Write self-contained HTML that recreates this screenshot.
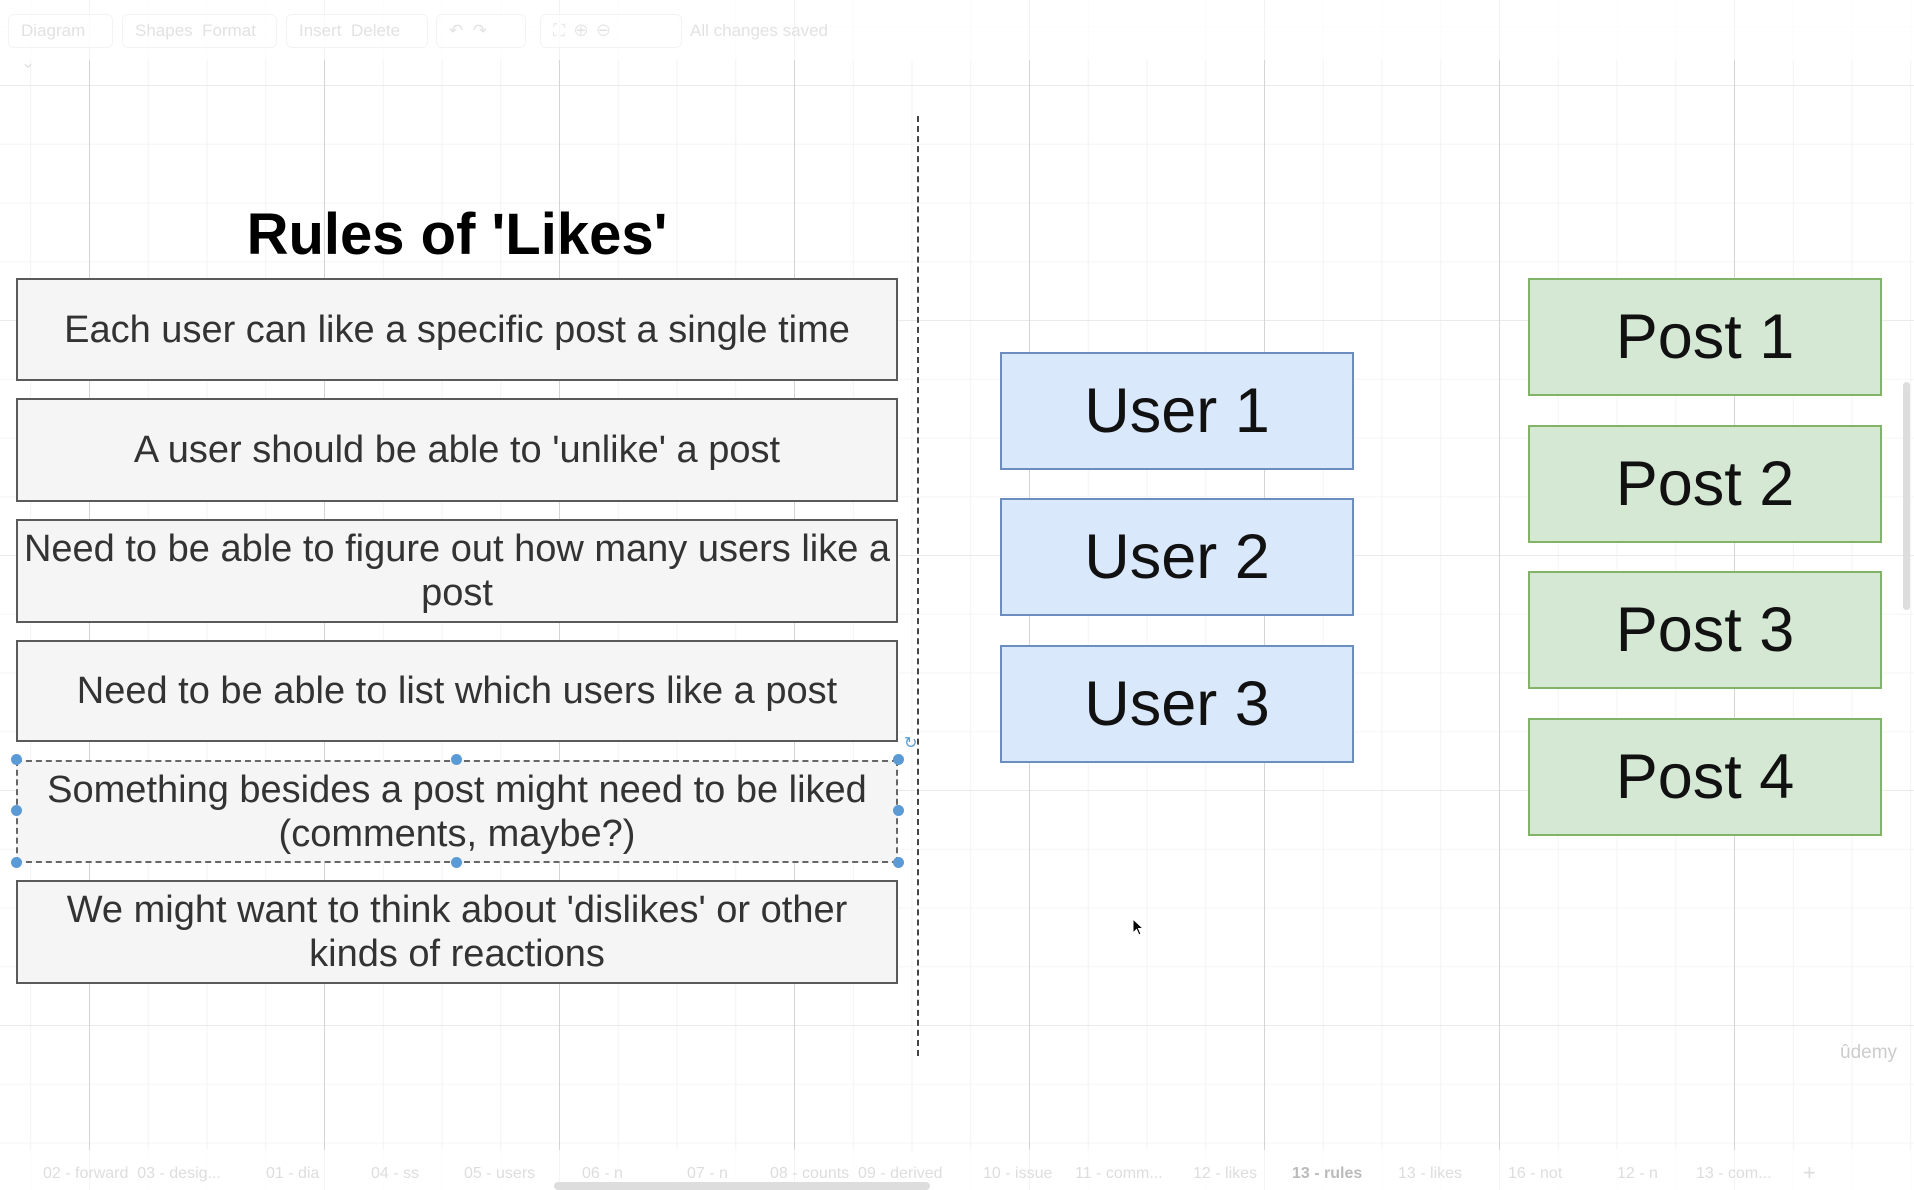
<!DOCTYPE html>
<html><head><meta charset="utf-8"><style>
*{margin:0;padding:0;box-sizing:border-box}
body{width:1914px;height:1190px;overflow:hidden;position:relative;font-family:"Liberation Sans",Arial,sans-serif;
background-color:#fff;
background-image:
linear-gradient(to right,#d4d4d4 1px,transparent 1px),
linear-gradient(to bottom,#eaeaea 1px,transparent 1px),
linear-gradient(to right,#f3f3f3 1px,transparent 1px),
linear-gradient(to bottom,#f5f5f5 1px,transparent 1px);
background-size:235px 100%,100% 235px,58.75px 100%,100% 58.75px;
background-position:89px 0,0 85px,89px 0,0 85px;}
.abs{position:absolute}
.rule{position:absolute;left:16px;width:882px;background:#f5f5f5;border:2.5px solid #5a5a5a;display:flex;align-items:center;justify-content:center;text-align:center;font-size:38px;line-height:44px;color:#333;padding:0 4px}
.u{position:absolute;left:1000px;width:354px;height:118px;background:#dae8fc;border:2.5px solid #6c8ebf;display:flex;align-items:center;justify-content:center;font-size:63px;color:#111}
.p{position:absolute;left:1528px;width:354px;height:118px;background:#d5e8d4;border:2.5px solid #82b366;display:flex;align-items:center;justify-content:center;font-size:63px;color:#111}
.h{position:absolute;width:11px;height:11px;border-radius:50%;background:#5b9bd5}
.tb{position:absolute;top:14px;height:34px;border:1px solid #f3f3f3;border-radius:6px;color:#e2e2e2;font-size:17px;line-height:32px;padding:0 12px;background:rgba(255,255,255,.6)}
.tab{position:absolute;top:1165px;font-size:16px;color:#ddd}
</style></head><body>
<div class="abs" style="left:0;top:0;width:1914px;height:60px;background:rgba(255,255,255,.7)"></div>
<div class="tb" style="left:8px;width:105px">Diagram ⌄</div>
<div class="tb" style="left:122px;width:155px">Shapes&nbsp;&nbsp;Format</div>
<div class="tb" style="left:286px;width:142px">Insert&nbsp;&nbsp;Delete</div>
<div class="tb" style="left:436px;width:90px">↶&nbsp;&nbsp;↷</div>
<div class="tb" style="left:540px;width:142px">⛶&nbsp;&nbsp;⊕&nbsp;&nbsp;⊖</div>
<div class="abs" style="left:690px;top:14px;font-size:17px;line-height:34px;color:#e2e2e2">All changes saved</div>

<div class="abs" style="left:0;top:200px;width:914px;text-align:center;font-weight:bold;font-size:58px;line-height:70px;color:#000">Rules of 'Likes'</div>

<div class="rule" style="top:278px;height:103px">Each user can like a specific post a single time</div>
<div class="rule" style="top:398px;height:104px">A user should be able to 'unlike' a post</div>
<div class="rule" style="top:519px;height:104px">Need to be able to figure out how many users like a post</div>
<div class="rule" style="top:640px;height:102px">Need to be able to list which users like a post</div>
<div class="rule" style="top:760px;height:103px;border:2px dashed #666">Something besides a post might need to be liked<br>(comments, maybe?)</div>
<div class="rule" style="top:880px;height:104px">We might want to think about 'dislikes' or other<br>kinds of reactions</div>
<div class="h" style="left:11px;top:754px"></div><div class="h" style="left:451px;top:754px"></div><div class="h" style="left:893px;top:754px"></div>
<div class="h" style="left:11px;top:805px"></div><div class="h" style="left:893px;top:805px"></div>
<div class="h" style="left:11px;top:857px"></div><div class="h" style="left:451px;top:857px"></div><div class="h" style="left:893px;top:857px"></div>
<div class="abs" style="left:904px;top:733px;color:#5b9bd5;font-size:16px">↻</div>

<div class="abs" style="left:917px;top:116px;height:940px;border-left:2px dashed #444"></div>

<div class="u" style="top:352px">User 1</div>
<div class="u" style="top:498px">User 2</div>
<div class="u" style="top:645px">User 3</div>

<div class="p" style="top:278px">Post 1</div>
<div class="p" style="top:425px">Post 2</div>
<div class="p" style="top:571px">Post 3</div>
<div class="p" style="top:718px">Post 4</div>

<svg class="abs" style="left:1132px;top:918px" width="14" height="20"><path d="M1 1 L1 15 L4.5 11.5 L7 17 L9 16 L6.5 10.5 L11 10.5 Z" fill="#000" stroke="#fff" stroke-width="1"/></svg>
<div class="abs" style="left:1840px;top:1042px;font-size:19px;color:#ccc">ûdemy</div>
<div class="abs" style="left:1903px;top:382px;width:7px;height:228px;background:#ddd;border-radius:4px"></div>

<div class="abs" style="left:0;top:1150px;width:1914px;height:40px;background:rgba(255,255,255,.75)"></div>
<div class="tab" style="left:43px">02 - forward&nbsp; 03 - desig...</div>
<div class="tab" style="left:266px">01 - dia</div>
<div class="tab" style="left:371px">04 - ss</div>
<div class="tab" style="left:464px">05 - users</div>
<div class="tab" style="left:582px">06 - n</div>
<div class="tab" style="left:687px">07 - n</div>
<div class="tab" style="left:770px">08 - counts&nbsp; 09 - derived</div>
<div class="tab" style="left:983px">10 - issue</div>
<div class="tab" style="left:1075px">11 - comm...</div>
<div class="tab" style="left:1193px">12 - likes</div>
<div class="tab" style="left:1292px;color:#bbb;font-weight:bold">13 - rules</div>
<div class="tab" style="left:1398px">13 - likes</div>
<div class="tab" style="left:1508px">16 - not</div>
<div class="tab" style="left:1617px">12 - n</div>
<div class="tab" style="left:1696px">13 - com...</div>
<div class="tab" style="left:1803px;font-size:22px;top:1160px">+</div>
<div class="abs" style="left:554px;top:1182px;width:376px;height:8px;background:#ddd;border-radius:4px"></div>
</body></html>
